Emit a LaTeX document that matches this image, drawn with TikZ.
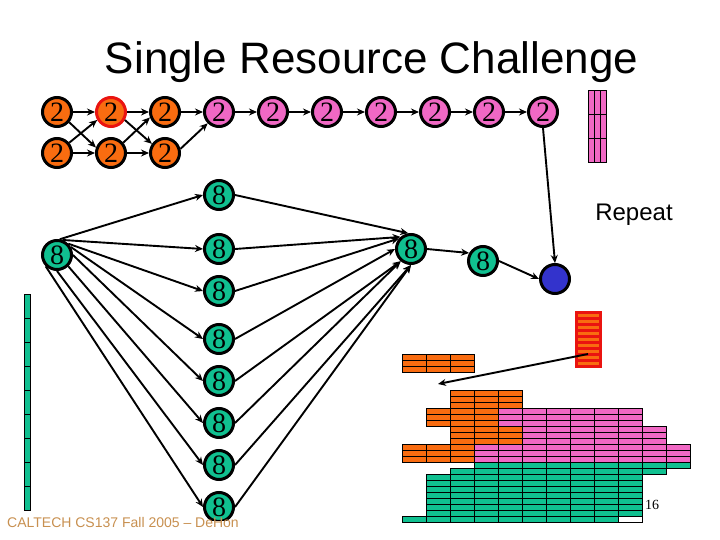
\documentclass[tikz,border=0pt]{standalone}
\usepackage{fontspec}
\setmainfont{Liberation Serif}
\setsansfont{Liberation Sans}
\usetikzlibrary{arrows.meta}
\definecolor{chipOrange}{HTML}{F96C10}
\definecolor{chipPink}{HTML}{F068C4}
\definecolor{chipGreen}{HTML}{10C090}
\definecolor{chipBlue}{HTML}{3333CC}
\definecolor{chipRed}{HTML}{EA1410}
\definecolor{footBrown}{HTML}{C89050}
\tikzset{>={Stealth[length=8pt,width=7pt]}}
\tikzset{
  task/.style={circle, draw=black, line width=3pt, minimum size=29pt, inner sep=0pt, font=\fontsize{28}{28}\selectfont},
  otask/.style={task, fill=chipOrange},
  ptask/.style={task, fill=chipPink},
  gtask/.style={task, fill=chipGreen},
  flow/.style={->, line width=1.9pt},
  cell/.style={draw=black, line width=0.8pt}
}
% x y width height columns rows colour
\newcommand{\cellblock}[7]{%
  \foreach \i in {1,...,#5} {
    \foreach \j in {1,...,#6} {
      \draw[cell, fill=#7] ({#1+(\i-1)*#3},{#2+(\j-1)*#4}) rectangle ++(#3,#4);
    }
  }
}
\begin{document}
\begin{tikzpicture}[x=1pt,y=-1pt]
    \useasboundingbox (0,0) rectangle (720,540);
    \node[font=\sffamily\fontsize{44}{44}\selectfont, anchor=base] (title) at (371.5,74) {Single Resource Challenge};
    % top row
    \node[otask] (a1) at (57,112) {2};
    \node[otask, draw=chipRed] (a2) at (111,112) {2};
    \node[otask] (a3) at (165,112) {2};
    \node[otask] (b1) at (57,153) {2};
    \node[otask] (b2) at (111,153) {2};
    \node[otask] (b3) at (165,153) {2};
    \foreach \n/\x in {4/219,5/273,6/327,7/381,8/435,9/489,10/543}
      \node[ptask] (a\n) at (\x,112) {2};
    % green fan
    \node[gtask] (src) at (57,255) {8};
    \foreach \n/\y in {1/195,2/249,3/291,4/339,5/381,6/423,7/465,8/507}
      \node[gtask] (g\n) at (219,\y) {8};
    \node[gtask] (sink) at (411,249) {8};
    \node[gtask] (last) at (483,261) {8};
    \node[task, fill=chipBlue] (done) at (555,279) {};
    % arrows
    \foreach \p/\q in {a1/a2,a2/a3,a3/a4,a4/a5,a5/a6,a6/a7,a7/a8,a8/a9,a9/a10,b1/b2,b2/b3}
      \draw[flow] (\p.east) -- (\q.west);
    \draw[flow] (a1.320) -- (b2.160);
    \draw[flow] (b1.40) -- (a2.210);
    \draw[flow] (a2.330) -- (b3.145);
    \draw[flow] (b2.40) -- (a3.200);
    \draw[flow] (b3.15) -- (a4.225);
    \foreach \n/\o/\t in {1/80/100,2/70/131,3/45/139,4/30/180,5/0/230,6/315/230,7/270/270,8/225/270} {
      \draw[flow] (src.\o) -- (g\n.west);
      \draw[flow] (g\n.east) -- (sink.\t);
    }
    \draw[flow] (sink.east) -- (last.150);
    \draw[flow] (last.east) -- (done.west);
    \draw[flow] (a10.south) -- (done.north);
    \node[font=\sffamily\fontsize{24}{24}\selectfont, anchor=base] (repeat) at (634,221) {Repeat};
    % resource columns
    \cellblock{588.3}{90}{6.13}{24.2}{3}{3}{chipPink}
    \cellblock{24.3}{294.3}{6.4}{24}{1}{9}{chipGreen}
    % red block
    \node[draw=chipRed, fill=chipRed, minimum width=26pt, minimum height=56pt, inner sep=0pt, line width=0.5pt] (redblock) at (588.5,339.5) {};
    \foreach \k in {0,...,8}
      \fill[chipOrange] (578,{315.3+6*\k-1.5}) rectangle (599,{315.3+6*\k+1.5});
    \coordinate (movefrom) at (588,354);
    \coordinate (moveto) at (438,384);
    % schedule
    \cellblock{402.3}{354.3}{24.03}{6}{3}{3}{chipOrange}
    \cellblock{450.4}{390.3}{24.03}{6}{3}{3}{chipOrange}
    \cellblock{426.3}{408.3}{24.03}{6}{3}{3}{chipOrange}
    \cellblock{498.4}{408.3}{24.03}{6}{6}{3}{chipPink}
    \cellblock{450.4}{426.3}{24.03}{6}{3}{3}{chipOrange}
    \cellblock{522.4}{426.3}{24.03}{6}{6}{3}{chipPink}
    \cellblock{402.3}{444.3}{24.03}{6}{3}{3}{chipOrange}
    \cellblock{474.4}{444.3}{24.03}{6}{9}{3}{chipPink}
    \cellblock{474.4}{462.3}{24.03}{6}{9}{1}{chipGreen}
    \cellblock{450.4}{468.3}{24.03}{6}{9}{1}{chipGreen}
    \cellblock{426.3}{474.3}{24.03}{6}{9}{7}{chipGreen}
    \cellblock{402.3}{516.3}{24.03}{6}{9}{1}{chipGreen}
    \draw[cell, fill=white] (618.6,516.3) rectangle (642.6,522.3);
    \draw[flow] (movefrom) -- (moveto);
    \node[font=\fontsize{14}{14}\selectfont, anchor=base] (page) at (652,509) {16};
    \node[font=\sffamily\fontsize{14}{14}\selectfont, text=footBrown, fill=white, anchor=base west, inner sep=0pt, text height=6.5pt, text depth=1pt] (foot) at (7,527) {CALTECH CS137 Fall 2005 -- DeHon};
\end{tikzpicture}
\end{document}
